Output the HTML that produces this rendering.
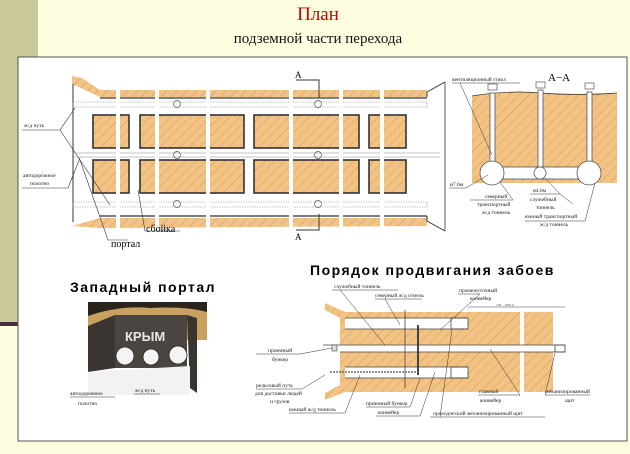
<!DOCTYPE html>
<html><head><meta charset="utf-8">
<style>
html,body{margin:0;padding:0;width:630px;height:454px;overflow:hidden;background:#fffde0;}
svg{display:block}
text{font-family:"Liberation Serif",serif;}
.s{font-size:5.5px;fill:#222}
</style></head><body>
<svg width="630" height="454" viewBox="0 0 630 454" xmlns="http://www.w3.org/2000/svg">
<defs>
<pattern id="h" patternUnits="userSpaceOnUse" width="7" height="7" patternTransform="rotate(45)">
<rect width="7" height="7" fill="#f3c384"/>
<line x1="0" y1="0" x2="0" y2="7" stroke="#c89050" stroke-width="0.8"/>
</pattern>
</defs>
<rect x="0" y="0" width="38" height="323" fill="#c9c99a"/>
<rect x="0" y="322" width="40" height="4" fill="#4b2a3c"/>
<text x="318" y="20" font-size="19" fill="#cc0000" text-anchor="middle">План</text>
<text x="318" y="43" font-size="15" fill="#111" text-anchor="middle">подземной части перехода</text>
<rect x="18" y="57" width="609" height="384" fill="#fff" stroke="#555" stroke-width="1"/>

<!-- PLAN -->
<g>
<path d="M72 76 L82 78 L100 90 L427 90 L427 97 L100 97 L72 84 Z" fill="url(#h)"/>
<path d="M72 226 L100 218 L427 218 L427 226 L100 228 Z" fill="url(#h)"/>
<line x1="73" y1="84" x2="73" y2="222" stroke="#333" stroke-width="1"/>
<line x1="100" y1="98" x2="427" y2="98" stroke="#333" stroke-width="1.2"/>
<line x1="100" y1="216" x2="427" y2="216" stroke="#333" stroke-width="1.2"/>
<path d="M427 97 L427 92 L445 82" fill="none" stroke="#333"/>
<path d="M427 216 L427 221 L445 231" fill="none" stroke="#333"/>
<line x1="445" y1="82" x2="445" y2="231" stroke="#333" stroke-width="0.8"/>
<!-- rails -->
<rect x="73" y="102" width="354" height="5" fill="none" stroke="#888" stroke-width="0.6" stroke-dasharray="1.5 1"/>
<rect x="73" y="202" width="354" height="5" fill="none" stroke="#888" stroke-width="0.6" stroke-dasharray="1.5 1"/>
<line x1="73" y1="153" x2="440" y2="153" stroke="#888" stroke-width="0.6"/>
<line x1="73" y1="157" x2="440" y2="157" stroke="#888" stroke-width="0.6"/>
<!-- blocks -->
<g stroke="#333" stroke-width="1.6">
<rect x="93" y="115" width="36" height="33" fill="url(#h)"/>
<rect x="140" y="115" width="104" height="33" fill="url(#h)"/>
<rect x="254" y="115" width="105" height="33" fill="url(#h)"/>
<rect x="369" y="115" width="37" height="33" fill="url(#h)"/>
<rect x="93" y="160" width="36" height="33" fill="url(#h)"/>
<rect x="140" y="160" width="104" height="33" fill="url(#h)"/>
<rect x="254" y="160" width="105" height="33" fill="url(#h)"/>
<rect x="369" y="160" width="37" height="33" fill="url(#h)"/>
</g>
<g fill="none" stroke="#555" stroke-width="0.7">
<circle cx="177" cy="104" r="3.5"/><circle cx="318" cy="104" r="3.5"/>
<circle cx="177" cy="155" r="3.5"/><circle cx="318" cy="155" r="3.5"/>
<circle cx="177" cy="204" r="3.5"/><circle cx="318" cy="204" r="3.5"/>
</g>
<!-- break gaps -->
<g fill="#fff">
<rect x="116" y="85" width="4" height="148"/>
<rect x="155" y="85" width="4" height="148"/>
<rect x="206" y="85" width="4" height="148"/>
<rect x="289" y="85" width="4" height="148"/>
<rect x="339" y="85" width="4" height="148"/>
<rect x="380" y="85" width="4" height="148"/>
</g>
<!-- section marks -->
<path d="M296 80 L319 80 L319 98" fill="none" stroke="#333"/>
<text x="295" y="78" font-size="9">A</text>
<path d="M296 230 L319 230 L319 214" fill="none" stroke="#333"/>
<text x="295" y="240" font-size="9">A</text>
<!-- labels -->
<text x="24" y="127" class="s">ж/д путь</text>
<line x1="22" y1="130" x2="60" y2="130" stroke="#333" stroke-width="0.6"/>
<path d="M60 130 L75 108 M60 130 L110 205" stroke="#333" stroke-width="0.6" fill="none"/>
<text x="23" y="177" class="s">автодорожное</text>
<text x="30" y="185" class="s">полотно</text>
<line x1="22" y1="188" x2="68" y2="188" stroke="#333" stroke-width="0.6"/>
<path d="M68 188 L80 158" stroke="#333" stroke-width="0.6" fill="none"/>
<path d="M80 160 L108 240 L128 240" stroke="#333" stroke-width="0.6" fill="none"/>
<text x="111" y="247" font-size="10">портал</text>
<path d="M138 190 L145 231 L180 231" stroke="#333" stroke-width="0.6" fill="none"/>
<text x="146" y="232" font-size="10">сбойка</text>
</g>

<!-- SECTION A-A -->
<g>
<path d="M472 96 Q510 90 540 93 Q580 96 617 93 L617 183 L472 183 Z" fill="url(#h)"/>
<path d="M472 96 Q510 90 540 93 Q580 96 617 93" fill="none" stroke="#333" stroke-width="0.7"/>
<g fill="#fff" stroke="#555" stroke-width="0.8">
<rect x="490" y="93" width="5" height="72"/>
<rect x="538" y="90" width="5" height="78"/>
<rect x="587" y="92" width="5" height="72"/>
<rect x="496" y="167" width="84" height="12"/>
<circle cx="492" cy="173" r="12"/>
<circle cx="540" cy="173" r="6"/>
<circle cx="589" cy="173" r="12"/>
</g>
<g fill="#fff" stroke="#555" stroke-width="0.7">
<rect x="488" y="84" width="9" height="6"/><rect x="536" y="82" width="9" height="6"/><rect x="585" y="83" width="9" height="6"/>
</g>
<text x="452" y="81" class="s">вентиляционный ствол</text>
<line x1="452" y1="83" x2="520" y2="83" stroke="#333" stroke-width="0.5"/>
<path d="M460 83 L492 155" stroke="#333" stroke-width="0.5"/>
<text x="548" y="81" font-size="11">A−A</text>
<text x="450" y="186" class="s">ø7.6м</text>
<line x1="449" y1="188" x2="466" y2="188" stroke="#333" stroke-width="0.5"/>
<path d="M466 188 L488 175" stroke="#333" stroke-width="0.5"/>
<text x="485" y="198" class="s">северный</text>
<text x="477" y="206" class="s">транспортный</text>
<text x="482" y="214" class="s">ж/д тоннель</text>
<line x1="470" y1="200" x2="513" y2="200" stroke="#333" stroke-width="0.5"/>
<path d="M513 200 L500 182" stroke="#333" stroke-width="0.5"/>
<text x="533" y="192" class="s">ø4.6м</text>
<text x="530" y="201" class="s">служебный</text>
<text x="536" y="209" class="s">тоннель</text>
<path d="M530 194 L560 194 L545 178 M560 194 L573 204" fill="none" stroke="#333" stroke-width="0.5"/>
<text x="525" y="218" class="s">южный транспортный</text>
<text x="540" y="226" class="s">ж/д тоннель</text>
<line x1="525" y1="221" x2="585" y2="221" stroke="#333" stroke-width="0.5"/>
<path d="M585 221 L595 183" stroke="#333" stroke-width="0.5"/>
</g>

<!-- WEST PORTAL -->
<text x="70" y="292" font-family="Liberation Sans" font-weight="bold" font-size="14" style="font-family:'Liberation Sans',sans-serif;letter-spacing:1.5px">Западный портал</text>
<g>
<rect x="88" y="302" width="119" height="14" fill="#2a241c"/>
<path d="M88 316 Q120 305 150 308 Q185 306 207 312 L207 340 L88 340 Z" fill="#c8a060"/>
<path d="M88 326 L115 315 L115 368 L88 372 Z" fill="#3a3530"/>
<rect x="115" y="315" width="72" height="53" fill="#4a4540"/>
<path d="M187 315 L197 318 L197 393 L190 388 Z" fill="#3a342e"/>
<text x="125" y="341" font-family="Liberation Sans" style="font-family:'Liberation Sans',sans-serif" font-weight="bold" font-size="13" fill="#e8e8e8">КРЫМ</text>
<g fill="#f4f4f4" stroke="#222" stroke-width="0.8">
<circle cx="125" cy="356" r="9"/><circle cx="151" cy="357" r="8"/><circle cx="178" cy="355" r="9"/>
</g>
<path d="M88 372 L190 366 L190 395 L88 395 Z" fill="#f2f2f0"/>
<text x="70" y="395" class="s">автодорожное</text>
<line x1="70" y1="397" x2="115" y2="397" stroke="#333" stroke-width="0.5"/>
<text x="78" y="405" class="s">полотно</text>
<text x="135" y="392" class="s">ж/д путь</text>
<line x1="134" y1="394" x2="160" y2="394" stroke="#333" stroke-width="0.5"/>
</g>

<!-- FACE ADVANCE -->
<text x="310" y="275" style="font-family:'Liberation Sans',sans-serif;letter-spacing:1.5px" font-weight="bold" font-size="14">Порядок продвигания забоев</text>
<g>
<path d="M325 303 L345 312 L553 312 L553 392 L345 392 L325 400 L325 393 L340 385 L340 318 L325 310 Z" fill="url(#h)"/>
<g fill="#fff">
<rect x="345" y="318" width="123" height="11"/>
<rect x="340" y="345" width="225" height="7"/>
<rect x="345" y="367" width="123" height="11"/>
<rect x="520" y="312" width="4" height="80"/>
</g>
<g stroke="#444" stroke-width="0.8" fill="none">
<line x1="345" y1="318" x2="468" y2="318"/><line x1="345" y1="329" x2="468" y2="329"/>
<line x1="340" y1="345" x2="565" y2="345"/><line x1="340" y1="352" x2="565" y2="352"/>
<line x1="345" y1="367" x2="468" y2="367"/><line x1="345" y1="378" x2="468" y2="378"/>
<rect x="451" y="318" width="17" height="11"/><rect x="451" y="367" width="17" height="11"/>
<rect x="555" y="345" width="10" height="7"/>
<line x1="418" y1="325" x2="418" y2="375" stroke-width="2"/>
<line x1="405" y1="310" x2="405" y2="388"/>
<line x1="468" y1="307" x2="565" y2="307" stroke-width="0.5"/>
<line x1="323" y1="345" x2="340" y2="345"/>
</g>
<line x1="330" y1="372" x2="420" y2="372" stroke="#555" stroke-dasharray="2 1" stroke-width="1.2"/>
<rect x="332" y="345" width="5" height="6" fill="#ddd" stroke="#444" stroke-width="0.6"/>
<text x="496" y="306" style="font-size:3.5px" fill="#555">100 - 1000 м</text>
<g class="s">
<text x="334" y="288" class="s">служебный тоннель</text>
<text x="375" y="297" class="s">северный ж/д отнель</text>
<text x="459" y="292" class="s">промежуточный</text>
<text x="470" y="300" class="s">конвейер</text>
<text x="268" y="352" class="s">приемный</text>
<text x="272" y="361" class="s">бункер</text>
<text x="256" y="387" class="s">рельсовый путь</text>
<text x="255" y="395" class="s">для доставки людей</text>
<text x="270" y="403" class="s">и грузов</text>
<text x="289" y="411" class="s">южный ж/д тоннель</text>
<text x="366" y="405" class="s">приемный бункер</text>
<text x="378" y="414" class="s">конвейер</text>
<text x="433" y="415" class="s">проходческий механизированный щит</text>
<text x="479" y="393" class="s">главный</text>
<text x="480" y="402" class="s">конвейер</text>
<text x="545" y="393" class="s">механизированный</text>
<text x="565" y="402" class="s">щит</text>
</g>
<g stroke="#333" stroke-width="0.5" fill="none">
<path d="M332 290 L398 290 M340 290 L385 345"/>
<path d="M375 299 L422 299 M385 299 L400 325"/>
<path d="M458 294 L480 294 L440 330"/>
<path d="M256 354 L300 354 L332 348"/>
<path d="M256 389 L302 389 L325 375"/>
<path d="M289 413 L345 413 L360 375"/>
<path d="M366 407 L410 407 L420 378"/>
<path d="M376 416 L420 416 L435 372"/>
<path d="M430 417 L545 417 M440 417 L452 330"/>
<path d="M478 395 L520 395 L490 349"/>
<path d="M545 395 L590 395 M545 395 L555 353"/>
</g>
</g>
</svg>
</body></html>
